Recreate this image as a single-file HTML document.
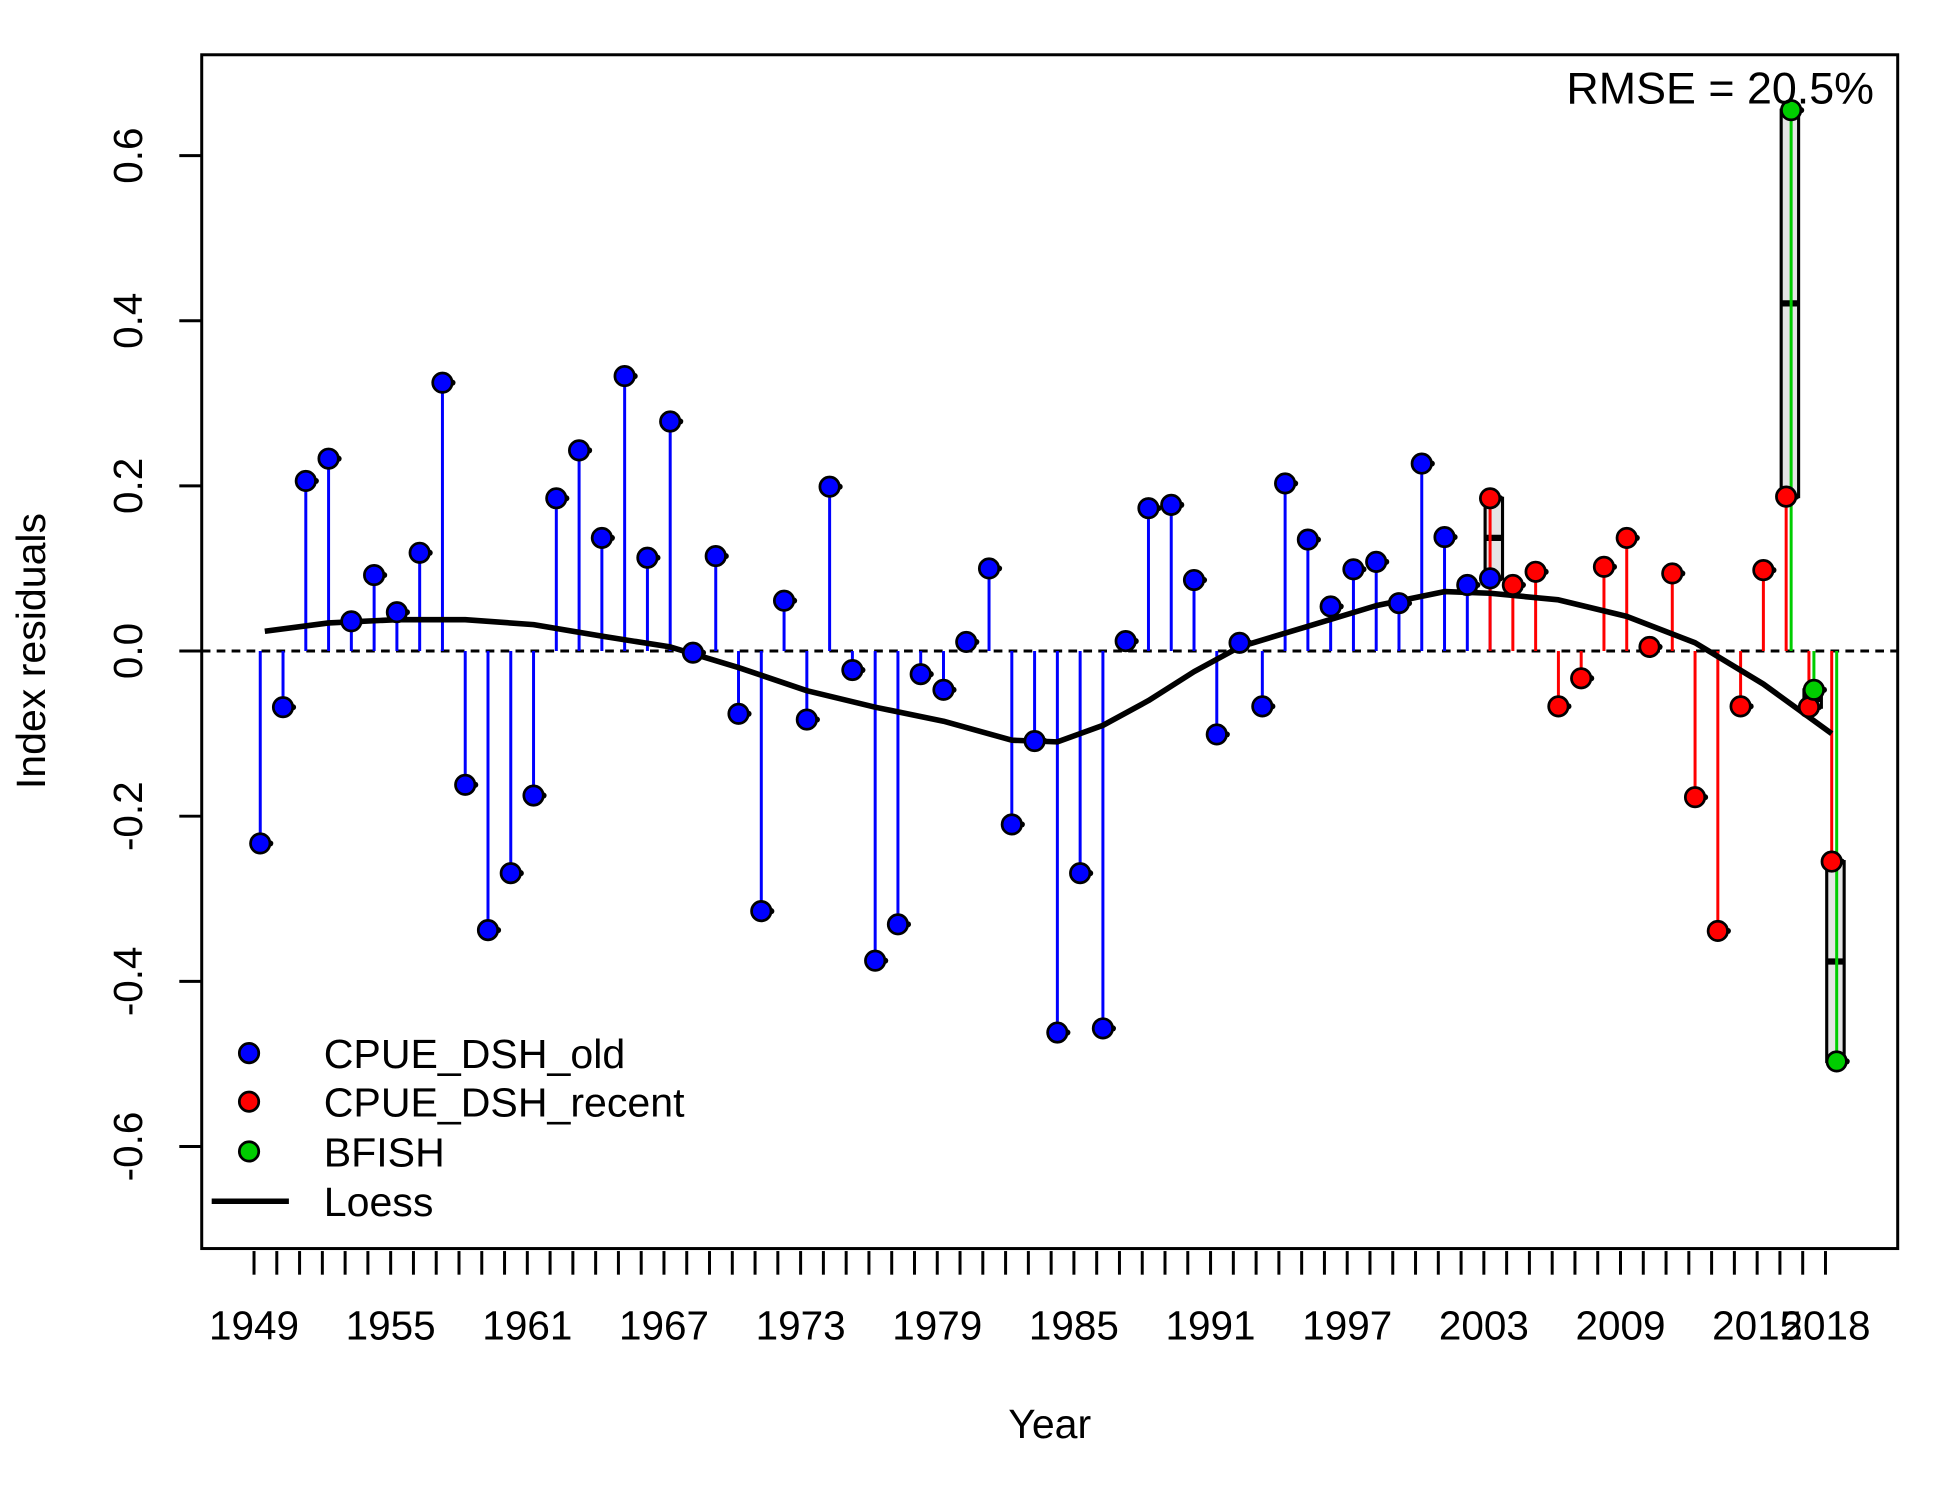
<!DOCTYPE html>
<html><head><meta charset="utf-8"><style>html,body{margin:0;padding:0;background:#fff}svg{display:block}text{font-family:"Liberation Sans",Arial,sans-serif}</style></head>
<body>
<svg id="chart" width="1950" height="1500" viewBox="0 0 1566 1205" preserveAspectRatio="none" xmlns="http://www.w3.org/2000/svg">
<rect x="0" y="0" width="1566" height="1205" fill="#fff"/>
<g id="plot"></g>
</svg>
<script>
const blueYears=[1949,1950,1951,1952,1953,1954,1955,1956,1957,1958,1959,1960,1961,1962,1963,1964,1965,1966,1967,1968,1969,1970,1971,1972,1973,1974,1975,1976,1977,1978,1979,1980,1981,1982,1983,1984,1985,1986,1987,1988,1989,1990,1991,1992,1993,1994,1995,1996,1997,1998,1999,2000,2001,2002,2003];
const blueVals=[-0.233,-0.068,0.206,0.233,0.036,0.092,0.047,0.119,0.325,-0.162,-0.338,-0.269,-0.175,0.185,0.243,0.137,0.333,0.113,0.278,-0.002,0.115,-0.076,-0.315,0.061,-0.083,0.199,-0.023,-0.375,-0.331,-0.028,-0.047,0.011,0.100,-0.210,-0.109,-0.462,-0.269,-0.457,0.012,0.173,0.177,0.086,-0.101,0.010,-0.067,0.203,0.135,0.054,0.099,0.108,0.058,0.227,0.138,0.080,0.088];
const redYears=[2003,2004,2005,2006,2007,2008,2009,2010,2011,2012,2013,2014,2015,2016,2017,2018];
const redVals=[0.185,0.080,0.096,-0.067,-0.033,0.102,0.137,0.005,0.094,-0.177,-0.339,-0.067,0.098,0.187,-0.068,-0.255];
const greenYears=[2016,2017,2018];
const greenVals=[0.655,-0.047,-0.497];
const loessYears=[1949.2,1952,1955,1958,1961,1964,1967,1970,1973,1976,1979,1982,1984,1986,1988,1990,1992,1995,1998,2001,2003,2006,2009,2012,2015,2018];
const loessVals=[0.024,0.034,0.038,0.038,0.032,0.018,0.005,-0.02,-0.048,-0.068,-0.085,-0.108,-0.11,-0.09,-0.06,-0.025,0.005,0.03,0.055,0.072,0.07,0.062,0.042,0.01,-0.04,-0.1];
const boxYears=[2003,2016,2017,2018];
const boxLow=[0.088,0.187,-0.068,-0.497];
const boxHigh=[0.185,0.655,-0.047,-0.255];
const boxMed=[0.137,0.421,-0.058,-0.376];
const yTicks=[-0.6,-0.4,-0.2,0.0,0.2,0.4,0.6];
const yTickLabels=["-0.6","-0.4","-0.2","0.0","0.2","0.4","0.6"];
const xLabelYears=[1949,1955,1961,1967,1973,1979,1985,1991,1997,2003,2009,2015,2018];

const NS="http://www.w3.org/2000/svg";
const g=document.getElementById('plot');
const X=yr=>204+(yr-1949)*(1466-204)/69;
const Y=v=>523-v*(523-125)/0.6;
function mk(tag,attrs,parent){const e=document.createElementNS(NS,tag);for(const k in attrs)e.setAttribute(k,attrs[k]);(parent||g).appendChild(e);return e;}

boxYears.forEach((yr,i)=>{
  const x=X(yr)+8;
  const b=mk('rect',{x:x-7,y:Y(boxHigh[i]),width:14,height:Math.max(2,Y(boxLow[i])-Y(boxHigh[i])),fill:'#e5e5e5',stroke:'#000','stroke-width':2.5});
  
  
  const m=mk('line',{x1:x-7,x2:x+7,y1:Y(boxMed[i]),y2:Y(boxMed[i]),stroke:'#000','stroke-width':5});
  
  
});
const z=mk('line',{x1:162,x2:1524,y1:Y(0),y2:Y(0),stroke:'#000','stroke-width':2.4,'stroke-dasharray':'7,5'});



function series(years,vals,color,off,name){
  years.forEach((yr,i)=>{
    const x=X(yr)+off;
    const s=mk('line',{x1:x,x2:x,y1:Y(0),y2:Y(vals[i]),stroke:color,'stroke-width':2.4});
    
    
  });
}
function points(years,vals,color,off,name){
  years.forEach((yr,i)=>{
    const x=X(yr)+off;
    mk('circle',{cx:x+8,cy:Y(vals[i]),r:2.5,fill:'#000'});
    const c=mk('circle',{cx:x,cy:Y(vals[i]),r:7.8,fill:color,stroke:'#000','stroke-width':2.2});
    
    
  });
}
series(blueYears,blueVals,'#0000ff',5,'cpue-dsh-old');
series(redYears,redVals,'#ff0000',5,'cpue-dsh-recent');
series(greenYears,greenVals,'#00cd00',9,'bfish');
const lp=mk('polyline',{points:loessYears.map((yr,i)=>(X(yr)+5)+','+Y(loessVals[i])).join(' '),fill:'none',stroke:'#000','stroke-width':4.5,'stroke-linejoin':'round'});


points(blueYears,blueVals,'#0000ff',5,'cpue-dsh-old');
points(redYears,redVals,'#ff0000',5,'cpue-dsh-recent');
points(greenYears,greenVals,'#00cd00',9,'bfish');

const fr=mk('rect',{x:162,y:44,width:1362,height:959,fill:'none',stroke:'#000','stroke-width':2.4});


for(let yr=1949;yr<=2018;yr++){
  const t=mk('line',{x1:X(yr),x2:X(yr),y1:1005,y2:1024,stroke:'#000','stroke-width':2.4});
  
  
}
xLabelYears.forEach(yr=>{
  const t=mk('text',{x:X(yr),y:1076,'font-size':32.5,'text-anchor':'middle'});
  t.textContent=yr;
  
  
});
yTicks.forEach((v,i)=>{
  const t=mk('line',{x1:144,x2:162,y1:Y(v),y2:Y(v),stroke:'#000','stroke-width':2.4});
  
  
  const l=mk('text',{x:0,y:0,'font-size':32.5,'text-anchor':'middle',transform:`translate(114,${Y(v)}) rotate(-90)`});
  l.textContent=yTickLabels[i];
  
  
});
</script>
<svg style="position:absolute;left:0;top:0" width="1950" height="1500" viewBox="0 0 1566 1205" preserveAspectRatio="none" xmlns="http://www.w3.org/2000/svg">
<text x="0" y="0" font-size="33" text-anchor="middle" transform="translate(36,523) rotate(-90)">Index residuals</text>
<text x="843" y="1155" font-size="33" text-anchor="middle">Year</text>
<text x="1505" y="83" font-size="36" text-anchor="end">RMSE = 20.5%</text>
<g>
<circle cx="200" cy="846" r="7.8" fill="#0000ff" stroke="#000" stroke-width="2.2"/>
<text x="260" y="858" font-size="33">CPUE_DSH_old</text>
<circle cx="200" cy="885" r="7.8" fill="#ff0000" stroke="#000" stroke-width="2.2"/>
<text x="260" y="897" font-size="33">CPUE_DSH_recent</text>
<circle cx="200" cy="925" r="7.8" fill="#00cd00" stroke="#000" stroke-width="2.2"/>
<text x="260" y="937" font-size="33">BFISH</text>
<line x1="170" x2="232" y1="965" y2="965" stroke="#000" stroke-width="4.5"/>
<text x="260" y="977" font-size="33">Loess</text>
</g>
</svg>
</body></html>
